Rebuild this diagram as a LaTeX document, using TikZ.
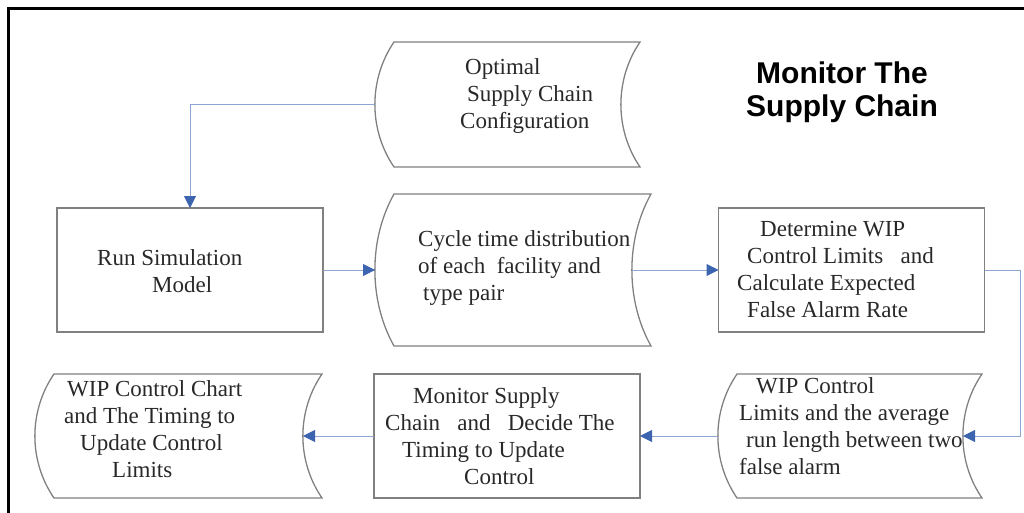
\documentclass[tikz,border=0pt]{standalone}
\usepackage{fontspec}
\usepackage{tikz}
\usepackage{xcolor}
\usetikzlibrary{arrows.meta, positioning, calc}
\setmainfont{Liberation Serif}
\newfontfamily\titlefont{Liberation Sans}
\definecolor{boxgray}{RGB}{128,128,128}
\definecolor{flowblue}{RGB}{140,165,210}
\definecolor{tipblue}{RGB}{60,100,175}
\definecolor{textgray}{RGB}{40,40,40}

% outline of a stored-data shape round a named node
\newcommand{\datashape}[1]{%
	\draw[shapeline] ($(#1.north west)+(19,0)$) -- ($(#1.north east)+(19,0)$)
		.. controls ($(#1.north east)!0.6!(#1.east)+(-6.5,0)$)
		and ($(#1.south east)!0.6!(#1.east)+(-6.5,0)$) .. ($(#1.south east)+(19,0)$)
		-- ($(#1.south west)+(19,0)$)
		.. controls ($(#1.south west)!0.6!(#1.west)+(-6.5,0)$)
		and ($(#1.north west)!0.6!(#1.west)+(-6.5,0)$) .. ($(#1.north west)+(19,0)$) -- cycle;}

\begin{document}
\begin{tikzpicture}[
		x=1pt, y=-1pt,
		shapeline/.style={draw=boxgray, line width=1.3pt},
		procbox/.style={shapeline, minimum width=266pt, minimum height=124pt,
			inner sep=0pt, outer sep=0pt},
		databox/.style={minimum height=124pt, inner sep=0pt, outer sep=0pt},
		lbl/.style={font=\fontsize{23}{27}\selectfont, text=textgray,
			inner sep=0pt, align=left, anchor=west},
		flow/.style={-{Triangle[length=12pt, width=12pt, color=tipblue]},
			draw=flowblue, line width=1pt}
	]
		\useasboundingbox (0,0) rectangle (1024,513);
		\draw[line width=3pt] (8,513) -- (8,9) -- (1024,9);

		% top row
		\node[databox, minimum width=246pt, minimum height=125pt] (opt) at (498,104.5) {};
		\node[procbox] (run) at (190,270) {};
		\node[databox, minimum width=257pt, minimum height=152pt] (cyc) at (503.5,270) {};
		\node[procbox] (det) at (851.5,270) {};
		% bottom row
		\node[databox, minimum width=245pt] (wip) at (840.5,436) {};
		\node[procbox] (mon) at (507,436) {};
		\node[databox, minimum width=268pt] (chart) at (169,436) {};
		\datashape{opt}
		\datashape{cyc}
		\datashape{wip}
		\datashape{chart}

		\node[lbl] (optlbl) at (460,96) {\hspace*{5pt}Optimal\\\hspace*{7pt}Supply Chain\\Configuration};
		\node[lbl] (runlbl) at (97,271) {Run Simulation\\\hspace*{55pt}Model};
		\node[lbl] (cyclbl) at (418,268) {Cycle time distribution\\of each\ \ facility and\\\hspace*{5pt}type pair};
		\node[lbl] (detlbl) at (737,269) {\hspace*{23pt}Determine WIP\\\hspace*{10pt}Control Limits\ \ \ and\\Calculate Expected\\\hspace*{10pt}False Alarm Rate};
		\node[lbl] (wiplbl) at (739,426) {\hspace*{17pt}WIP Control\\Limits and the average\\\hspace*{7pt}run length between two\\false alarm};
		\node[lbl] (monlbl) at (385,436) {\hspace*{28pt}Monitor Supply\\Chain\ \ \ and\ \ \ Decide The\\\hspace*{17pt}Timing to Update\\\hspace*{79pt}Control};
		\node[lbl] (chartlbl) at (64,429) {\hspace*{3pt}WIP Control Chart\\and The Timing to\\\hspace*{16pt}Update Control\\\hspace*{48pt}Limits};
		\node[font=\titlefont\bfseries\fontsize{30}{33}\selectfont, align=center, inner sep=0pt]
			(title) at (842,92) {Monitor The\\Supply Chain};

		\draw[flow] (opt.west) -| (run.north);
		\draw[flow] (run.east) -- (cyc.west);
		\draw[flow] (cyc.east) -- (det.west);
		\coordinate (turn) at (1020,270);
		\draw[flow] (det.east) -- (turn) |- (wip.east);
		\draw[flow] (wip.west) -- (mon.east);
		\draw[flow] (mon.west) -- (chart.east);
	\end{tikzpicture}
\end{document}
